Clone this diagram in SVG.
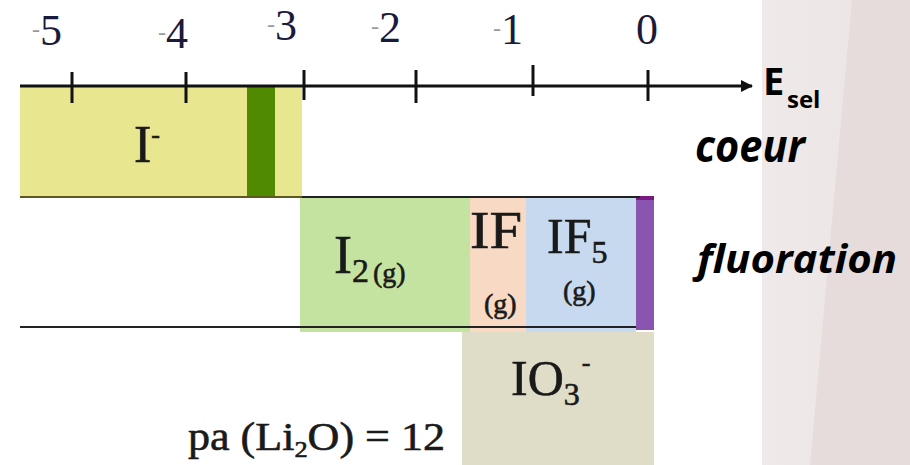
<svg xmlns="http://www.w3.org/2000/svg" width="910" height="465" viewBox="0 0 910 465">
<defs>
<style>
.s{font-family:"Liberation Serif","DejaVu Serif",serif;fill:#1a1a1a}
.h{stroke:#1a1a1a;stroke-width:0.6}
.n{font-size:44px;fill:#1a1a3a}
.m{fill:#999;stroke:none}
.b{font-family:"Open Sans","Liberation Sans",sans-serif;font-weight:bold;fill:#000}
.tk{stroke:#111;stroke-width:3}
</style>
<marker id="ah" markerWidth="12" markerHeight="12" refX="11" refY="6" orient="auto" markerUnits="userSpaceOnUse">
<path d="M0,0 L12,6 L0,12 z" fill="#111"/>
</marker>
<linearGradient id="bg" x1="0" y1="0" x2="1" y2="0">
<stop offset="0" stop-color="#efe9e9"/><stop offset="1" stop-color="#ece4e4"/>
</linearGradient>
</defs>
<rect width="910" height="465" fill="#fff"/>
<rect x="762" y="0" width="148" height="465" fill="url(#bg)"/>
<polygon points="852,0 910,0 910,465 810,465" fill="#e6dcdc"/>

<g id="box-I">
<rect x="20" y="86" width="282" height="111" fill="#e8e68f"/>
<rect x="247" y="86" width="28" height="111" fill="#4f8a00"/>
<text class="s h" x="134" y="162" font-size="52">I<tspan font-size="26" dy="-19">-</tspan></text>
</g>
<g id="box-I2">
<rect x="300" y="197" width="170" height="135" fill="#c5e3a0"/>
<text class="s h" x="334" y="273" font-size="54">I<tspan font-size="34" dy="9">2</tspan><tspan font-size="28" dx="4">(g)</tspan></text>
</g>
<g id="box-IF">
<rect x="470" y="197" width="56" height="135" fill="#f8d9c3"/>
<text class="s h" x="470" y="248" font-size="52" textLength="52" lengthAdjust="spacingAndGlyphs">IF</text>
<text class="s h" x="484" y="313" font-size="28">(g)</text>
</g>
<g id="box-IF5">
<rect x="526" y="197" width="110" height="135" fill="#c6d9ee"/>
<text class="s h" x="547" y="253" font-size="50">IF<tspan font-size="32" dy="10">5</tspan></text>
<text class="s h" x="563" y="300" font-size="28">(g)</text>
</g>
<g id="bar-purple">
<rect x="636" y="196" width="18" height="134" fill="#8a55b0"/>
<rect x="636" y="196" width="18" height="4" fill="#7a1a80"/>
</g>
<g id="box-IO3">
<rect x="462" y="332" width="192" height="133" fill="#dfdcc8"/>
<text class="s h" x="511" y="395" font-size="50">IO<tspan font-size="32" dy="10">3</tspan><tspan font-size="26" dx="2" dy="-34">-</tspan></text>
</g>

<g id="connectors">
<line x1="20" y1="197" x2="302" y2="197" stroke="#5a5a20" stroke-width="2"/>
<line x1="302" y1="197" x2="640" y2="197" stroke="#222" stroke-width="2"/>
<line x1="20" y1="327" x2="636" y2="327" stroke="#222" stroke-width="2"/>
<line x1="20" y1="86" x2="752" y2="86" stroke="#111" stroke-width="3" marker-end="url(#ah)"/>
<line class="tk" x1="72" y1="72" x2="72" y2="103"/>
<line class="tk" x1="186" y1="72" x2="186" y2="103"/>
<line class="tk" x1="304" y1="70" x2="304" y2="100"/>
<line class="tk" x1="416" y1="70" x2="416" y2="103"/>
<line class="tk" x1="533" y1="65" x2="533" y2="96"/>
<line class="tk" x1="648" y1="70" x2="648" y2="101"/>
</g>

<g id="labels">
<text class="s n" x="32" y="45"><tspan class="m" font-size="24" dy="-8">-</tspan><tspan dy="8">5</tspan></text>
<text class="s n" x="158" y="48"><tspan class="m" font-size="24" dy="-8">-</tspan><tspan dy="8">4</tspan></text>
<text class="s n" x="267" y="40"><tspan class="m" font-size="24" dy="-8">-</tspan><tspan dy="8">3</tspan></text>
<text class="s n" x="371" y="42"><tspan class="m" font-size="24" dy="-8">-</tspan><tspan dy="8">2</tspan></text>
<text class="s n" x="493" y="44"><tspan class="m" font-size="24" dy="-8">-</tspan><tspan dy="8">1</tspan></text>
<text class="s n" x="636" y="44" fill="#3a2a1a">0</text>
<text class="b" x="763" y="95" font-size="38">E</text>
<text class="b" x="787" y="108" font-size="24">sel</text>
<text class="b" x="695" y="162" font-size="44" font-style="italic" textLength="110" lengthAdjust="spacingAndGlyphs">coeur</text>
<text class="b" x="697" y="273" font-size="40" font-style="italic" textLength="200" lengthAdjust="spacingAndGlyphs">fluoration</text>
<text class="s h" x="188" y="450" font-size="40" textLength="257" lengthAdjust="spacingAndGlyphs">pa (Li<tspan font-size="24" dy="7">2</tspan><tspan dy="-7">O) = 12</tspan></text>
</g>
</svg>
